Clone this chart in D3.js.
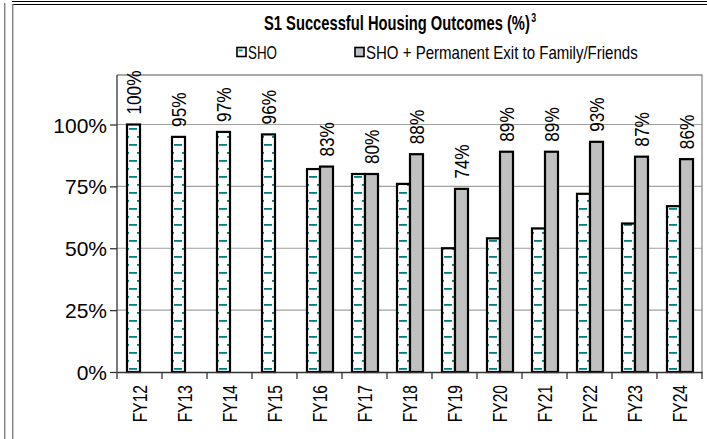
<!DOCTYPE html>
<html><head><meta charset="utf-8">
<script src="https://cdn.jsdelivr.net/npm/d3@7"></script>
<style>body{margin:0;background:#fff}svg{display:block}</style>
</head><body><svg id="c" width="707" height="439"></svg>
<script>
const categories = ["FY12","FY13","FY14","FY15","FY16","FY17","FY18","FY19","FY20","FY21","FY22","FY23","FY24"];
const shoValues = [100,95,97,96,82,80,76,50,54,58,72,60,67];
const shoFamilyValues = [null,null,null,null,83,80,88,74,89,89,93,87,86];
const shoLabels = ["100%","95%","97%","96%",null,null,null,null,null,null,null,null,null];
const shoFamilyLabels = [null,null,null,null,"83%","80%","88%","74%","89%","89%","93%","87%","86%"];
const yTicks = [0,25,50,75,100];
const yTickLabels = ["0%","25%","50%","75%","100%"];
const seriesNames = ["SHO","SHO + Permanent Exit to Family/Friends"];
const titleText = "S1 Successful Housing Outcomes (%)";
const titleSup = "3";

const svg = d3.select("#c");
const W = 707, H = 439;
const m = {l:117, r:702, t:75, b:372};
const TEAL = "#008080", GRAY = "#C0C0C0";

svg.append("rect").attr("width",W).attr("height",H).attr("fill","#fff");

// outer frame
svg.append("line").attr("x1",12).attr("x2",707).attr("y1",1.5).attr("y2",1.5).attr("stroke","#000").attr("stroke-width",1.2);
svg.append("line").attr("x1",12).attr("x2",707).attr("y1",4.5).attr("y2",4.5).attr("stroke","#000").attr("stroke-width",1.2);
svg.append("line").attr("x1",4.7).attr("x2",4.7).attr("y1",3).attr("y2",439).attr("stroke","#808080").attr("stroke-width",1.4);
svg.append("line").attr("x1",12.7).attr("x2",12.7).attr("y1",4).attr("y2",439).attr("stroke","#808080").attr("stroke-width",1.4);

const x = d3.scaleBand().domain(categories).range([m.l, m.r]).paddingInner(0).paddingOuter(0);
const xs = d3.scaleBand().domain([0,1]).range([10, 36]);
const y = d3.scaleLinear().domain([0,120]).range([m.b, m.t]);

// gridlines
svg.append("g").selectAll("line").data(yTicks.filter(d=>d>0)).join("line")
  .attr("x1",m.l).attr("x2",m.r).attr("y1",d=>y(d)).attr("y2",d=>y(d))
  .attr("stroke","#A0A0A0").attr("stroke-width",1.2);
// plot border top/right
svg.append("path").attr("d",`M${m.l},${m.t}H${m.r}V${m.b}`).attr("fill","none").attr("stroke","#8C8C8C").attr("stroke-width",1.3);

// y axis
const yAxis = d3.axisLeft(y).tickValues(yTicks).tickFormat((d,i)=>yTickLabels[i]).tickSize(7).tickSizeOuter(0);
const gy = svg.append("g").attr("transform",`translate(${m.l},0)`).call(yAxis);
gy.select(".domain").attr("stroke","#333").attr("stroke-width",1.3);
gy.selectAll(".tick line").attr("stroke","#333").attr("stroke-width",1.3);
gy.selectAll(".tick text").attr("x",-10).attr("dy","0.36em").attr("font-family","'Liberation Sans',Arial,sans-serif").attr("font-size",21).attr("fill","#000");
gy.select(".domain").attr("d",`M0,${m.t}V${m.b}`);

// defs patterns (one per bar, aligned to bar left)
const defs = svg.append("defs");
function makePattern(id, x0){
  const p = defs.append("pattern").attr("id",id).attr("patternUnits","userSpaceOnUse")
    .attr("x",x0).attr("y",m.b-4).attr("width",16).attr("height",16);
  p.append("rect").attr("width",16).attr("height",16).attr("fill","#fff");
  p.append("rect").attr("x",2).attr("y",0).attr("width",8).attr("height",1.8).attr("fill",TEAL);
  p.append("rect").attr("x",10).attr("y",8).attr("width",8).attr("height",1.8).attr("fill",TEAL);
  p.append("rect").attr("x",-6).attr("y",8).attr("width",8).attr("height",1.8).attr("fill",TEAL);
}

const data1 = categories.map((c,i)=>({c, v:shoValues[i], lab:shoLabels[i], i}));
const data2 = categories.map((c,i)=>({c, v:shoFamilyValues[i], lab:shoFamilyLabels[i], i})).filter(d=>d.v!=null);

data1.forEach(d=>makePattern("pat"+d.i, x(d.c)+xs(0)));

const bw = xs.bandwidth();
svg.append("g").selectAll("rect").data(data1).join("rect")
  .attr("x",d=>x(d.c)+xs(0)).attr("width",bw)
  .attr("y",d=>y(d.v)).attr("height",d=>y(0)-y(d.v))
  .attr("fill",d=>`url(#pat${d.i})`).attr("stroke","#000").attr("stroke-width",2.2);
svg.append("g").selectAll("rect").data(data2).join("rect")
  .attr("x",d=>x(d.c)+xs(1)).attr("width",bw)
  .attr("y",d=>y(d.v)).attr("height",d=>y(0)-y(d.v))
  .attr("fill",GRAY).attr("stroke","#000").attr("stroke-width",2.2);

// data labels
const lblFont = "'Liberation Sans',Arial,sans-serif";
function labels(data, slot){
  svg.append("g").selectAll("text").data(data.filter(d=>d.lab)).join("text")
    .attr("transform",d=>`translate(${x(d.c)+xs(slot)+bw/2},${y(d.v)-10}) rotate(-90) scale(0.86,1)`)
    .attr("text-anchor","start").attr("dy","0.36em")
    .attr("font-family",lblFont).attr("font-size",20).attr("fill","#000")
    .text(d=>d.lab);
}
labels(data1,0);
labels(data2,1);

// x axis
const xAxis = d3.axisBottom(x).tickSize(0).tickSizeOuter(0);
const gx = svg.append("g").attr("transform",`translate(0,${m.b})`).call(xAxis);
gx.select(".domain").attr("stroke","#333").attr("stroke-width",1.3);
gx.selectAll(".tick text").attr("transform",`translate(0,13) rotate(-90) scale(0.8,1)`)
  .attr("text-anchor","end").attr("x",0).attr("y",0).attr("dy","0.36em")
  .attr("font-family",lblFont).attr("font-size",19.5).attr("fill","#000");
// category boundary ticks
svg.append("g").selectAll("line").data(categories.map(c=>x(c)).concat([m.r])).join("line")
  .attr("x1",d=>d).attr("x2",d=>d).attr("y1",m.b).attr("y2",m.b+7)
  .attr("stroke","#333").attr("stroke-width",1.3);

// title (horizontally condensed via scale)
const narrow = "'Liberation Sans Narrow','Arial Narrow','Liberation Sans',Arial,sans-serif";
const tg = svg.append("g");
const t = tg.append("text").attr("x",0).attr("y",0).attr("font-family",narrow).attr("font-weight","bold")
  .attr("font-size",20).attr("fill","#000");
t.append("tspan").text(titleText);
t.append("tspan").attr("dx",2).attr("dy",-8).attr("font-size",12).text(titleSup);
const tw = t.node().getComputedTextLength();
const tsx = 271 / tw;
tg.attr("transform",`translate(264,30) scale(${tsx},1)`);

// legend
const legX = [237, 355];
const legW = [29, 272];
seriesNames.forEach((n,i)=>{
  const g = svg.append("g");
  if(i===0){
    g.append("rect").attr("x",legX[i]).attr("y",47.5).attr("width",9).attr("height",9).attr("fill","#fff").attr("stroke","#000").attr("stroke-width",1.6);
    g.append("rect").attr("x",legX[i]+1.5).attr("y",49.5).attr("width",4).attr("height",1.8).attr("fill",TEAL);
  } else {
    g.append("rect").attr("x",legX[i]).attr("y",47.5).attr("width",9).attr("height",9).attr("fill",GRAY).attr("stroke","#000").attr("stroke-width",1.6);
  }
  const lg = g.append("g");
  const lt = lg.append("text").attr("x",0).attr("y",0).attr("font-family",narrow).attr("font-size",17.5)
    .attr("fill","#000").text(n);
  const sx = legW[i] / lt.node().getComputedTextLength();
  lg.attr("transform",`translate(${legX[i]+11},58.5) scale(${sx},1)`);
});
</script></body></html>
